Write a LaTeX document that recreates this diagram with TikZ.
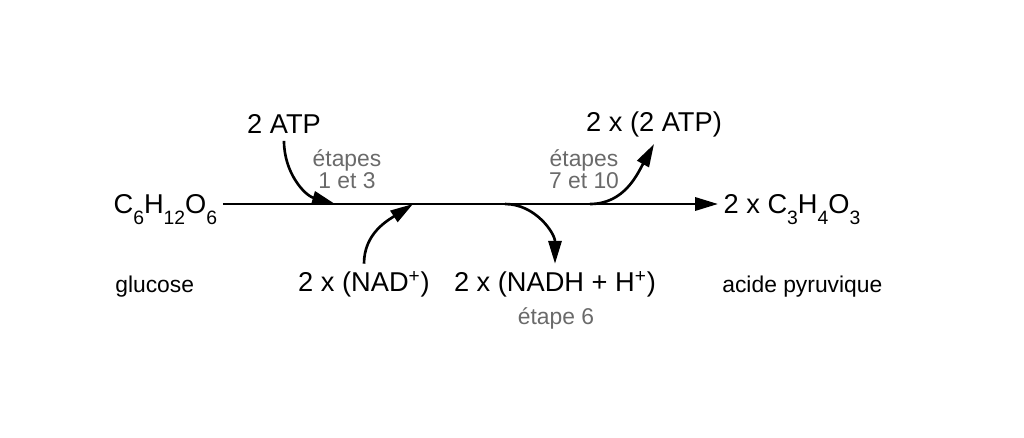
\documentclass[tikz,border=0pt]{standalone}
\usepackage{fontspec}
\setmainfont{Liberation Sans}
\usepackage{xcolor}
\usetikzlibrary{arrows.meta, positioning}
\definecolor{stepgray}{HTML}{6A6A6A}
\newcommand{\chsub}[1]{\raisebox{-6.3pt}{\fontsize{11}{11}\selectfont #1}}
\tikzstyle{chem} = [font=\fontsize{15.5}{17}\selectfont, 
inner sep=4pt]
\tikzstyle{formula} = [chem, 
text height=11pt, 
text depth=0pt, 
inner sep=3pt]
\tikzstyle{molname} = [font=\fontsize{13}{15}\selectfont, 
inner sep=0pt]
\tikzstyle{steplabel} = [font=\fontsize{13}{12.5}\selectfont, 
text=stepgray, 
align=center, 
inner sep=0pt]
\tikzstyle{arrow} = [line width=1.5pt,-{Triangle[length=13pt,width=7.5pt]},draw=black]

\begin{document}
\begin{tikzpicture}[x=0.02cm, y=0.02cm]
        \useasboundingbox (0,0) rectangle (1024,437);

        % Molécules
        \node (glc) [formula, anchor=west] at (108,233) {C\chsub{6}H\chsub{12}O\chsub{6}};
        \node (pyr) [formula, anchor=west] at (718,233) {2 x C\chsub{3}H\chsub{4}O\chsub{3}};
        \node (glucose) [molname, anchor=west] at (115,150) {glucose};
        \node (pyruvique) [molname, anchor=west] at (722,150) {acide pyruvique};
        \node (atp1) [chem] at (284,313) {2 ATP};
        \node (atp2) [chem] at (654,313) {2 x (2 ATP)};
        \node (nad) [chem] at (364,153) {2 x (NAD\textsuperscript{+})};
        \node (nadh) [chem] at (555,153) {2 x (NADH + H\textsuperscript{+})};

        % Étapes
        \node (st13) [steplabel] at (347,268) {étapes\\1 et 3};
        \node (st710) [steplabel] at (584,268) {étapes\\7 et 10};
        \node (st6) [steplabel] at (556,119) {étape 6};

        % Points sur la ligne
        \coordinate (in1) at (335,233);
        \coordinate (in2) at (413,233);
        \coordinate (out1) at (505,233);
        \coordinate (out2) at (590,233);

        % Flèches
        \draw [arrow] (glc.east) -- (pyr.west);
        \draw [arrow] (atp1.south) to[out=-90, in=164] (in1);
        \draw [arrow] (nad.north) to[out=90, in=213] (in2);
        \draw [arrow] (out1) to[out=0, in=90] (nadh.north);
        \draw [arrow] (out2) to[out=0, in=-119] (atp2.south);

    \end{tikzpicture}
\end{document}
